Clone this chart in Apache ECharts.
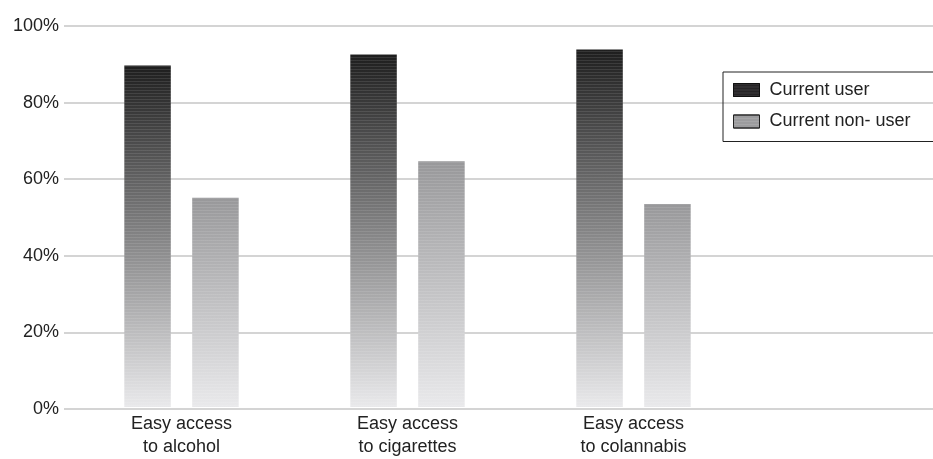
<!DOCTYPE html>
<html>
<head>
<meta charset="utf-8">
<script src="https://cdn.jsdelivr.net/npm/echarts@6/dist/echarts.min.js"></script>
<style>
html,body{margin:0;padding:0;background:#fff;}
#main{width:933px;height:459px;}
</style>
</head>
<body>
<div id="main"></div>
<script>
var categories = ['Easy access\nto alcohol', 'Easy access\nto cigarettes', 'Easy access\nto colannabis'];
var seriesNames = ['Current user', 'Current non- user'];
var currentUser = [89.6, 92.5, 93.8];
var nonUser = [54.9, 64.5, 53.3];
var yMin = 0, yMax = 100, yStep = 20;

var FONT = "'Liberation Sans', Arial, sans-serif";
var TXT = '#222222';

var chart = echarts.init(document.getElementById('main'), null, {renderer: 'canvas'});

function grad(top, bottom) {
  return new echarts.graphic.LinearGradient(0, 0, 0, 1, [
    {offset: 0, color: top},
    {offset: 1, color: bottom}
  ]);
}
var stripes = {
  symbol: 'rect', symbolSize: 1, dashArrayX: [1, 0], dashArrayY: [1, 2],
  color: 'rgba(255,255,255,0.10)', rotation: 0
};

chart.setOption({
  animation: false,
  backgroundColor: '#ffffff',
  textStyle: {fontFamily: FONT},
  grid: [
    {left: 68.5, width: 678, top: 26, bottom: 50, containLabel: false},
    {left: 64, right: 0, top: 26, bottom: 50, containLabel: false}
  ],
  legend: {
    data: [
      {name: seriesNames[0], icon: 'rect', itemStyle: {color: '#262426', borderColor: '#111', borderWidth: 1}},
      {name: seriesNames[1], icon: 'rect', itemStyle: {color: '#9c9c9e', borderColor: '#222', borderWidth: 1}}
    ],
    orient: 'vertical',
    left: 723, top: 72,
    padding: [9, 50, 11, 10],
    itemWidth: 26, itemHeight: 13, itemGap: 13.5,
    borderColor: '#222', borderWidth: 1,
    textStyle: {fontFamily: FONT, fontSize: 18, color: TXT, lineHeight: 18, padding: [0, 0, 0, 5]}
  },
  xAxis: [
    {
      type: 'category', gridIndex: 0, data: categories,
      axisLine: {show: false}, axisTick: {show: false}, splitLine: {show: false},
      axisLabel: {fontFamily: FONT, fontSize: 18, color: TXT, lineHeight: 23, margin: 6, interval: 0}
    },
    {type: 'value', gridIndex: 1, show: false, min: 0, max: 1}
  ],
  yAxis: [
    {type: 'value', gridIndex: 0, min: yMin, max: yMax, interval: yStep, show: false},
    {
      type: 'value', gridIndex: 1, min: yMin, max: yMax, interval: yStep,
      axisLine: {show: false}, axisTick: {show: false},
      axisLabel: {formatter: '{value}%', fontFamily: FONT, fontSize: 18, color: TXT, margin: 5},
      splitLine: {show: true, lineStyle: {color: '#c6c6c6', width: 1.5}}
    }
  ],
  series: [
    {
      name: seriesNames[0], type: 'bar', xAxisIndex: 0, yAxisIndex: 0,
      data: currentUser, barWidth: 46.5, barGap: '46%',
      itemStyle: {color: grad('#1e1e1e', '#e9e9eb'), decal: stripes}
    },
    {
      name: seriesNames[1], type: 'bar', xAxisIndex: 0, yAxisIndex: 0,
      data: nonUser, barWidth: 46.5, barGap: '46%',
      itemStyle: {color: grad('#98989a', '#e9e9eb'), decal: stripes}
    }
  ]
});
</script>
</body>
</html>
